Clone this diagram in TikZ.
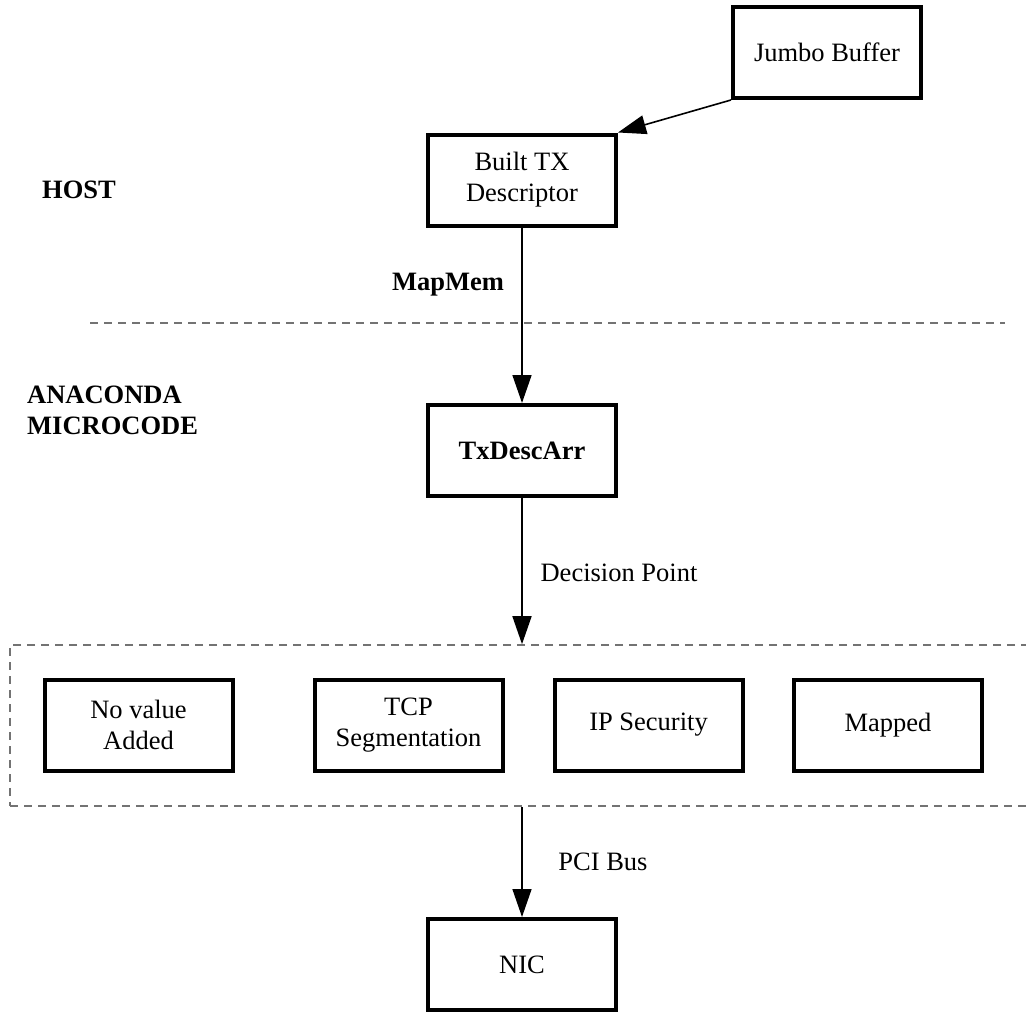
\documentclass[tikz,border=0pt]{standalone}
\usepackage{fontspec}
\setmainfont{Liberation Serif}
\usetikzlibrary{arrows.meta}
\begin{document}
\begin{tikzpicture}[x=1pt,y=-1pt,
  every node/.style={font=\fontsize{26.5}{31}\selectfont, inner sep=0pt},
  box/.style={draw=black, line width=4pt, minimum width=188pt, minimum height=91pt, align=center},
  lbl/.style={font=\fontsize{26.5}{31}\selectfont\bfseries},
  flow/.style={draw=black, line width=1.6pt, -{Triangle[length=28pt,width=19pt]}},
  sep/.style={draw=black!55, line width=1.6pt, dash pattern=on 8pt off 6pt},
]
\useasboundingbox[fill=white] (0,0) rectangle (1026,1012);

% host side
\node[box] (jumbo) at (827,52.5) {Jumbo Buffer};
\node[box] (built) at (522,180) {Built TX\\Descriptor};
\node[lbl] (host) at (79,190) {HOST};
\node[lbl] (mapmem) at (448,285) {MapMem};

% boundary between host and microcode
\coordinate (sepL) at (90,323);
\coordinate (sepR) at (1005,323);
\draw[sep] (sepL) -- (sepR);

% microcode side
\node[lbl, align=left, anchor=west] (anaconda) at (27,410) {ANACONDA\\MICROCODE};
\node[box, font=\fontsize{26.5}{31}\selectfont\bfseries] (txd) at (522,450.5) {TxDescArr};
\node (decision) at (619,573) {Decision Point};

% offload choices
\node[draw=black!55, line width=1.6pt, dash pattern=on 8pt off 6pt,
      minimum width=1024pt, minimum height=161pt] (offload) at (522,725.5) {};
\node[box] (novalue) at (138.5,725) {No value\\Added};
\node[box] (tcp) at (408.5,725) {TCP\\Segmentation};
\node[box] (ipsec) at (648.5,725) {IP Security};
\node[box] (mapped) at (888,725) {Mapped};

\node (pci) at (603,862) {PCI Bus};
\node[box] (nic) at (522,964.5) {NIC};

% connectors
\draw[flow] (jumbo.south west) -- (built.north east);
\draw[flow] (built.south) -- (txd.north);
\draw[flow] (txd.south) -- (offload.north);
\draw[flow] (offload.south) -- (nic.north);
\end{tikzpicture}
\end{document}
